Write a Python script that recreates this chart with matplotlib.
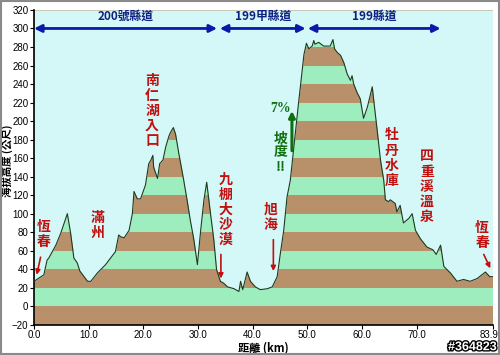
import numpy as np
import matplotlib.pyplot as plt
import matplotlib.patheffects as pe
import matplotlib.transforms as mtransforms
from matplotlib.patches import Rectangle

plt.rcParams['font.family'] = ['Liberation Sans Narrow', 'Liberation Sans', 'DejaVu Sans']
CJK = ['Noto Sans CJK TC', 'DejaVu Sans']

# Elevation profile (km, metres)
km = [0.0, 1.8, 2.4, 2.7, 4.0, 4.9, 6.1, 6.7, 7.3, 7.9, 8.4, 9.8, 10.4, 11.6,
      13.1, 14.9, 15.5, 15.9, 16.5, 17.4, 18.0, 18.3, 18.9, 19.5, 20.4, 21.0,
      21.4, 21.75, 21.9, 22.6, 23.0, 23.6, 24.1, 24.7, 25.0, 25.5, 25.9, 26.5,
      27.4, 28.0, 28.6, 29.25, 29.9, 30.5, 31.1, 31.6, 32.3, 32.9, 33.4, 34.1,
      34.7, 35.4, 36.6, 37.5, 37.8, 38.2, 39.0, 39.6, 40.5, 41.4, 42.7, 43.6,
      44.5, 45.1, 45.7, 46.3, 46.9, 48.4, 49.4, 49.85, 50.3, 50.9, 51.2, 51.4,
      52.1, 53.0, 54.2, 54.7, 55.0, 55.5, 56.1, 56.7, 57.3, 57.9, 58.2, 58.5,
      59.1, 59.7, 60.3, 61.0, 61.9, 62.1, 62.8, 63.4, 64.0, 64.3, 64.9, 65.2,
      66.1, 66.4, 67.0, 67.6, 68.6, 69.2, 69.8, 70.7, 71.9, 73.0, 73.6, 74.4,
      75.0, 76.2, 77.4, 78.6, 79.8, 81.1, 82.6, 83.4, 83.9]
elev = [27, 34, 50, 52, 66, 79, 100, 79, 52, 47, 38, 27, 27, 36,
        45, 59, 77, 75, 74, 82, 100, 124, 116, 116, 131, 154,
        158, 163, 150, 138, 154, 158, 172, 184, 188, 193, 186, 165,
        136, 115, 93, 72, 45, 82, 115, 134, 100, 72, 40, 27,
        25, 21, 19, 16, 27, 18, 37, 27, 21, 18, 19, 21,
        32, 58, 82, 118, 136, 219, 272, 284, 278, 281, 287, 283,
        285, 281, 281, 288, 278, 274, 271, 263, 251, 244, 249, 240,
        231, 224, 203, 215, 237, 226, 190, 158, 136, 115, 113, 115,
        111, 102, 109, 90, 95, 100, 82, 73, 64, 61, 56, 66,
        43, 36, 27, 29, 27, 30, 37, 32, 32]

xticks = [0, 10, 20, 30, 40, 50, 60, 70, 83.9]
xtick_labels = ['0.0', '10.0', '20.0', '30.0', '40.0', '50.0', '60.0', '70.0', '83.9']
yticks = list(range(-20, 321, 20))

# road sections: (start km, end km, label)
roads = [(0.0, 33.5, '200號縣道'), (34.0, 49.7, '199甲縣道'), (50.1, 74.4, '199縣道')]

# place names: (label, km, elev of centre)
places = [('恆春', 1.8, 78), ('滿州', 11.6, 87), ('南仁湖入口', 21.6, 211),
          ('九棚大沙漠', 35.0, 104), ('旭海', 43.3, 96), ('牡丹水庫', 65.5, 160),
          ('四重溪溫泉', 71.9, 129), ('恆春', 82.0, 76)]
# red arrows: (from km, from elev, to km, to elev)
place_arrows = [(1.2, 53, 0.5, 34), (34.2, 56, 34.2, 30), (43.8, 72, 43.8, 38),
                (82.3, 56, 83.5, 41)]

sky = '#d4f8f8'
green = '#9eedbf'
brown = '#b8916a'

fig = plt.figure(figsize=(5.0, 3.55), dpi=100)
fig.patch.set_facecolor('white')
fig.patches.append(Rectangle((0.002, 0.003), 0.995, 0.994, transform=fig.transFigure,
                             fill=False, edgecolor='#8a8a8a', lw=1.5))
ax = fig.add_axes([0.068, 0.085, 0.917, 0.887])
ax.set_facecolor(sky)
ax.set_xlim(0, 83.9)
ax.set_ylim(-20, 320)

# bands 20 m high, brown / green alternating
for lo in range(-20, 320, 20):
    c = brown if (lo // 20) % 2 == 1 else green
    ax.axhspan(lo, lo + 20, color=c, lw=0, zorder=1)
ax.fill_between(km, elev, 320, color=sky, lw=0, zorder=2)
ax.plot(km, elev, color='#1e3a1e', lw=0.8, zorder=3)

ax.set_xticks(xticks)
ax.set_xticklabels(xtick_labels)
ax.set_yticks(yticks)
ax.tick_params(labelsize=7, length=3, color='black', pad=1)
last = ax.get_xticklabels()[-1]
last.set_transform(last.get_transform() +
                   mtransforms.ScaledTranslation(-3 / 100, 0, fig.dpi_scale_trans))
for s in ['top', 'right']:
    ax.spines[s].set_visible(False)
ax.spines['left'].set_linewidth(1.2)
ax.spines['bottom'].set_linewidth(1.2)

ax.set_xlabel('距離 (km)', family=CJK, fontsize=8, fontweight='bold', labelpad=1)
ax.set_ylabel('海拔高度 (公尺)', family=CJK, fontsize=7.5, fontweight='bold')
ax.yaxis.set_label_coords(-0.045, 0.52)

for a, b, name in roads:
    ax.annotate('', xy=(a, 300), xytext=(b, 300),
                arrowprops=dict(arrowstyle='<|-|>', color='#0a1aa8', lw=2,
                                mutation_scale=11, shrinkA=0, shrinkB=0), zorder=4)
    ax.text((a + b) / 2, 313, name, family=CJK, fontsize=8.5, fontweight='bold',
            color='#102080', ha='center', va='center', zorder=4)

for name, x, y in places:
    ax.text(x, y, '\n'.join(name), family=CJK, fontsize=10, fontweight='bold',
            color='#c01010', ha='center', va='center', linespacing=1.1, zorder=4)
for x0, y0, x1, y1 in place_arrows:
    ax.annotate('', xy=(x1, y1), xytext=(x0, y0),
                arrowprops=dict(arrowstyle='-|>', color='#c01010', lw=1.2,
                                mutation_scale=7, shrinkA=0, shrinkB=0), zorder=4)

ax.text(45.1, 214, '7%', fontsize=10, fontweight='bold', color='#107010',
        ha='center', va='center', family=['Liberation Serif', 'DejaVu Serif'], zorder=4)
ax.text(45.1, 166, '坡\n度\n!!', family=CJK, fontsize=10, fontweight='bold',
        color='#107010', ha='center', va='center', linespacing=1.0, zorder=4)
ax.annotate('', xy=(47.2, 211), xytext=(47.2, 168),
            arrowprops=dict(arrowstyle='-|>', color='#107010', lw=2.2,
                            mutation_scale=9, shrinkA=0, shrinkB=0), zorder=4)

fig.text(0.945, 0.022, '#364823', fontsize=9, fontweight='bold', color='white',
         ha='center', va='center', family=['Liberation Sans', 'DejaVu Sans'],
         path_effects=[pe.withStroke(linewidth=2, foreground='black')])

fig.savefig('out.png', dpi=100)
